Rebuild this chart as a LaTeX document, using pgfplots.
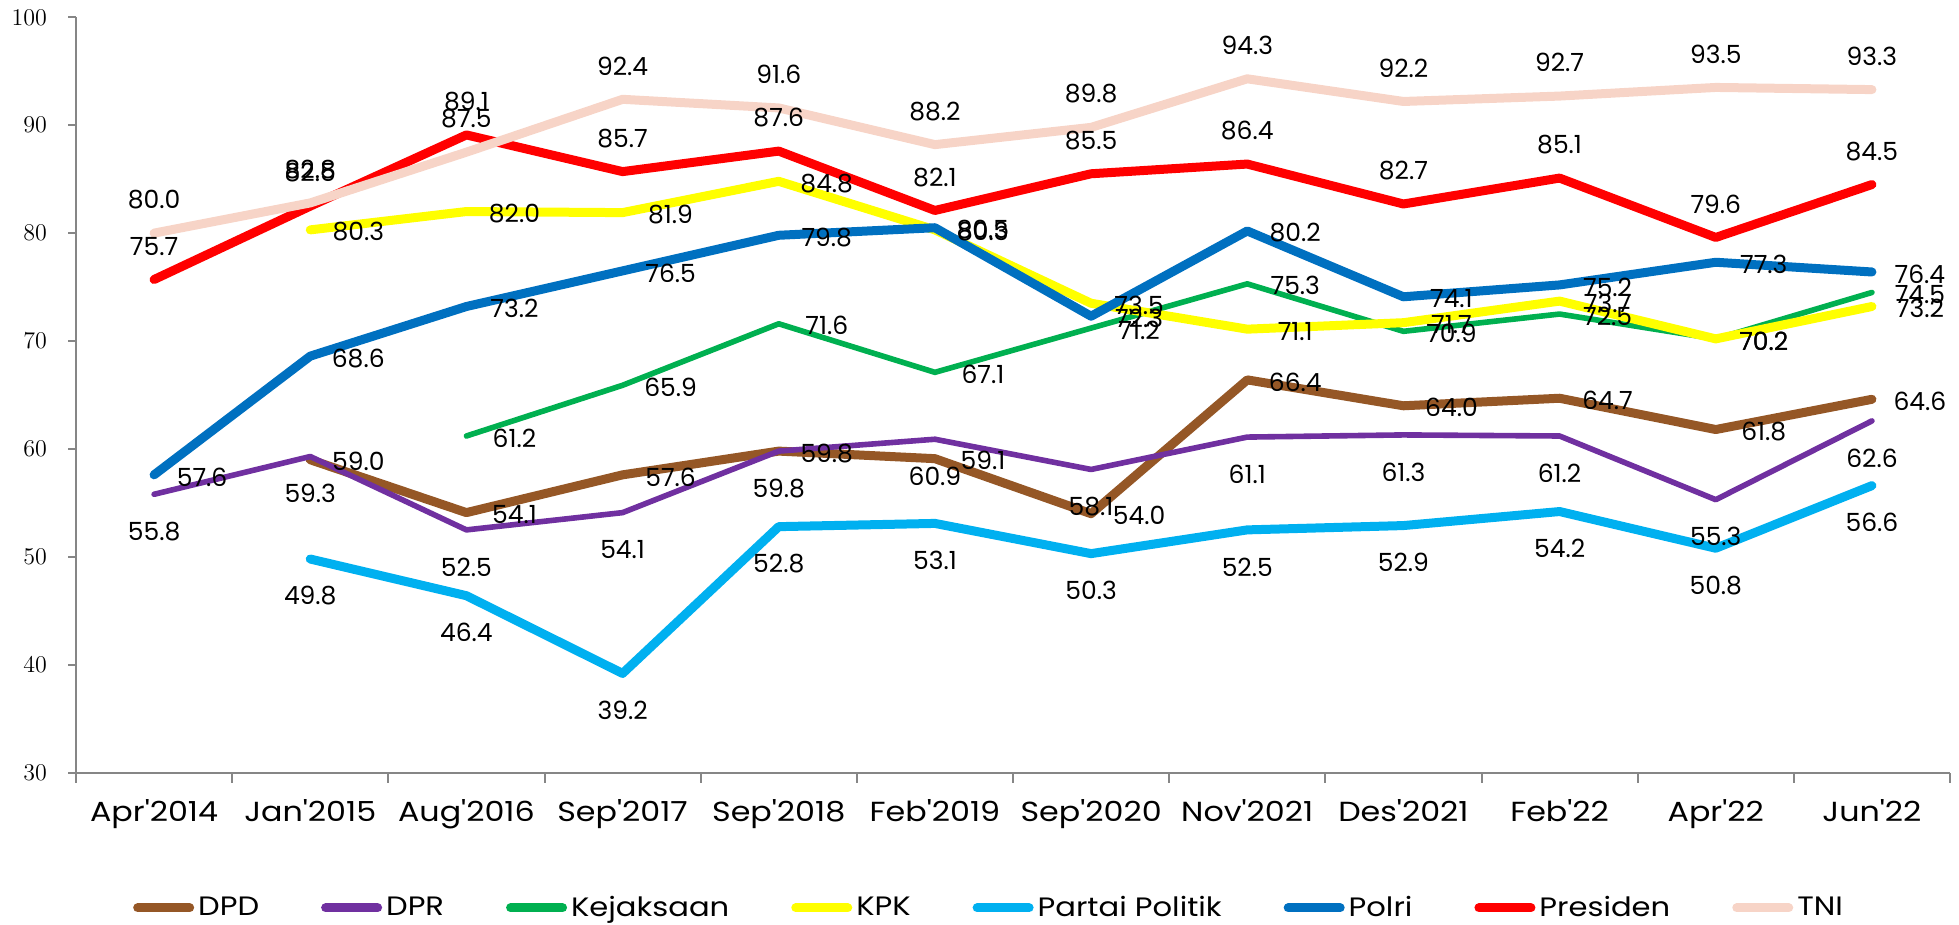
\documentclass[border=0pt]{standalone}
\usepackage{pgfplots}
\pgfplotsset{compat=1.18}
\usepackage{fontspec}
\setmainfont{Poppins}
\newfontfamily\widefont[FakeStretch=1.15]{Poppins}
\definecolor{cDPD}{HTML}{955726}
\definecolor{cDPR}{HTML}{7030A0}
\definecolor{cKej}{HTML}{00B050}
\definecolor{cKPK}{HTML}{FFFF00}
\definecolor{cPP}{HTML}{00B0F0}
\definecolor{cPolri}{HTML}{0070C0}
\definecolor{cPres}{HTML}{FF0000}
\definecolor{cTNI}{HTML}{F7D4C7}
\definecolor{axgray}{HTML}{868686}
\newcommand{\lblfont}{\fontsize{12.5}{12.5}\selectfont}
\newcommand{\mylbl}{\pgfmathprintnumber[fixed,fixed zerofill,precision=1,assume math mode=true]{\pgfplotspointmeta}}
\pgfplotsset{
  labAbove/.style={nodes near coords=\mylbl, every node near coord/.append style={anchor=center, yshift=16.7pt}},
  labBelow/.style={nodes near coords=\mylbl, every node near coord/.append style={anchor=center, yshift=-18.5pt}},
  labRight/.style={nodes near coords=\mylbl, every node near coord/.append style={anchor=center, xshift=24pt, yshift=-1pt}},
}
\begin{document}
\begin{tikzpicture}
\path[use as bounding box] (0,0) rectangle (979.5pt,462.5pt);
\begin{axis}[
  at={(38pt,76.15pt)}, anchor=south west,
  scale only axis, width=937pt, height=377.7pt,
  xmin=-0.5, xmax=11.5, ymin=30, ymax=100,
  axis x line*=bottom, axis y line*=left,
  axis line style={-, draw=axgray, line width=1pt},
  xtick={0,...,11},
  xticklabels={Apr'2014,Jan'2015,Aug'2016,Sep'2017,Sep'2018,Feb'2019,Sep'2020,Nov'2021,Des'2021,Feb'22,Apr'22,Jun'22},
  major x tick style={draw=none},
  minor xtick={-0.5,0.5,...,11.5},
  minor tick style={draw=axgray, line width=1pt},
  ytick={30,40,...,100},
  major y tick style={draw=axgray, line width=1pt},
  tick align=outside,
  major tick length=4pt, minor tick length=5pt,
  xticklabel style={font=\widefont\fontsize{13.8}{13.8}\selectfont, text=black, anchor=base, yshift=-20.5pt},
  yticklabel style={font=\fontsize{11.5}{11.5}\selectfont, text=black, xshift=-7pt},
  no markers,
  every axis plot/.append style={line join=round, line cap=round},
  every node near coord/.append style={font=\lblfont, text=black, inner sep=0pt},
  legend columns=8,
  legend cell align=left,
  legend style={draw=none, fill=none, font=\widefont\fontsize{13.3}{13.3}\selectfont,
    at={(axis description cs:0.5,0)}, anchor=center, yshift=-67.6pt, xshift=-11.5pt,
    /tikz/every even column/.append style={column sep=29pt},
    /tikz/every odd column/.append style={column sep=0pt}},
  legend image code/.code={\draw[#1, line width=4.5pt, line cap=round] (2pt,0pt) -- (28pt,0pt);},
]
\addplot[color=cDPD, line width=4.5pt, labRight] coordinates {(1,59.0)(2,54.1)(3,57.6)(4,59.8)(5,59.1)(6,54.0)(7,66.4)(8,64.0)(9,64.7)(10,61.8)(11,64.6)};
\addlegendentry{DPD}
\addplot[color=cDPR, line width=2.8pt, labBelow] coordinates {(0,55.8)(1,59.3)(2,52.5)(3,54.1)(4,59.8)(5,60.9)(6,58.1)(7,61.1)(8,61.3)(9,61.2)(10,55.3)(11,62.6)};
\addlegendentry{DPR}
\addplot[color=cKej, line width=2.8pt, labRight] coordinates {(2,61.2)(3,65.9)(4,71.6)(5,67.1)(6,71.2)(7,75.3)(8,70.9)(9,72.5)(10,70.2)(11,74.5)};
\addlegendentry{Kejaksaan}
\addplot[color=cKPK, line width=4.5pt, labRight] coordinates {(1,80.3)(2,82.0)(3,81.9)(4,84.8)(5,80.3)(6,73.5)(7,71.1)(8,71.7)(9,73.7)(10,70.2)(11,73.2)};
\addlegendentry{KPK}
\addplot[color=cPP, line width=4.5pt, labBelow] coordinates {(1,49.8)(2,46.4)(3,39.2)(4,52.8)(5,53.1)(6,50.3)(7,52.5)(8,52.9)(9,54.2)(10,50.8)(11,56.6)};
\addlegendentry{Partai Politik}
\addplot[color=cPolri, line width=4.5pt, labRight] coordinates {(0,57.6)(1,68.6)(2,73.2)(3,76.5)(4,79.8)(5,80.5)(6,72.3)(7,80.2)(8,74.1)(9,75.2)(10,77.3)(11,76.4)};
\addlegendentry{Polri}
\addplot[color=cPres, line width=4.5pt, labAbove] coordinates {(0,75.7)(1,82.5)(2,89.1)(3,85.7)(4,87.6)(5,82.1)(6,85.5)(7,86.4)(8,82.7)(9,85.1)(10,79.6)(11,84.5)};
\addlegendentry{Presiden}
\addplot[color=cTNI, line width=4.5pt, labAbove] coordinates {(0,80.0)(1,82.8)(2,87.5)(3,92.4)(4,91.6)(5,88.2)(6,89.8)(7,94.3)(8,92.2)(9,92.7)(10,93.5)(11,93.3)};
\addlegendentry{TNI}
\end{axis}
\end{tikzpicture}
\end{document}
